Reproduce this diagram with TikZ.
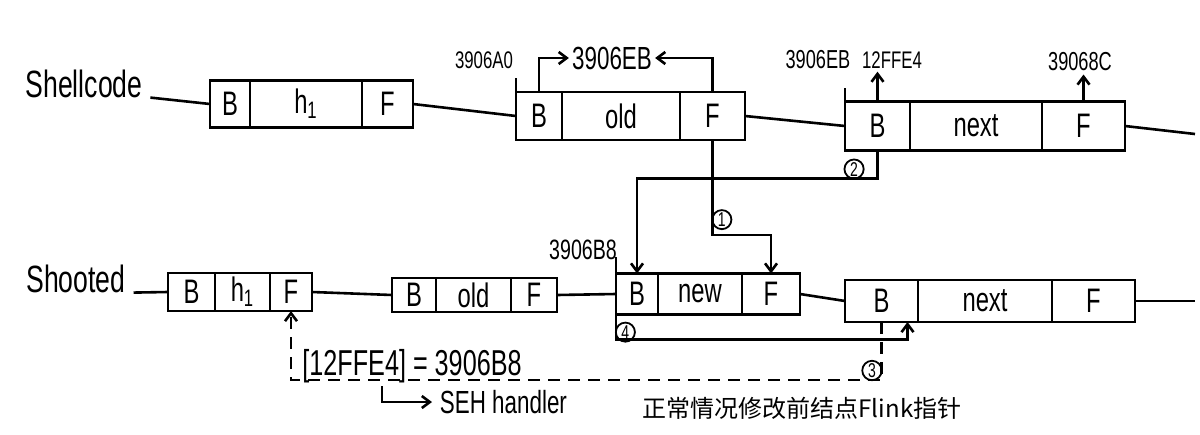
\documentclass[tikz,border=0pt]{standalone}
\usepackage{fontspec}
\setmainfont{Liberation Sans}[FakeStretch=0.7]
\newfontfamily\cjk{Noto Sans CJK SC}
\usepackage{tikz}
\usetikzlibrary{positioning, arrows.meta}

\begin{document}
\begin{tikzpicture}[
            x=0.5pt, y=-0.5pt,
            line width=1.3pt,
            >={Straight Barb[length=4pt, width=6pt]}, % open hand-drawn tips
            cell/.style={draw, inner sep=0pt, outer sep=0pt, minimum height=#1, font=\fontsize{17}{18}\selectfont}, % one field of a list entry
            cell/.default=23.5pt,
            listname/.style={font=\fontsize{19}{21}\selectfont},
            addr/.style={font=\fontsize{12}{13}\selectfont, inner sep=1pt},
            num/.style={circle, draw, solid, line width=0.9pt, inner sep=0.6pt, font=\fontsize{10}{11}\selectfont} % circled step number
            ]
    \useasboundingbox (0,0) rectangle (1200,434);

    % Shellcode list
    \node[listname] (lsh) at (84,84) {Shellcode};
    \node[cell, minimum width=20pt, anchor=west] (sb1) at (210,104) {B};
    \node[cell, minimum width=56pt, right=0pt of sb1] (sh1) {h\textsubscript{1}};
    \node[cell, minimum width=25.5pt, right=0pt of sh1] (sf1) {F};

    \node[cell=24pt, minimum width=23pt, anchor=west] (ob1) at (516,116) {B};
    \node[cell=24pt, minimum width=59pt, right=0pt of ob1] (oo1) {old};
    \node[cell=24pt, minimum width=32.5pt, right=0pt of oo1] (of1) {F};

    \node[cell=24.5pt, minimum width=32.5pt, anchor=west] (nb1) at (845,126) {B};
    \node[cell=24.5pt, minimum width=66pt, right=0pt of nb1] (nn1) {next};
    \node[cell=24.5pt, minimum width=41.5pt, right=0pt of nn1] (nf1) {F};
    \coordinate (tail1) at (1195,134);

    % addresses above the first list
    \node[addr] (a3906a0) at (484,60) {3906A0};
    \node[addr, font=\fontsize{16}{17}\selectfont] (a3906eb) at (612,58) {3906EB};
    \node[addr, font=\fontsize{13}{14}\selectfont] (b3906eb) at (818,60) {3906EB};
    \node[addr] (a12ffe4) at (892,60) {12FFE4};
    \node[addr, font=\fontsize{13}{14}\selectfont] (a39068c) at (1080,62) {39068C};

    \draw (lsh.base east) -- (sb1.west);
    \draw (sf1.east) -- (ob1.west);
    \draw (of1.east) -- (nb1.west);
    \draw (nf1.east) -- (tail1);
    \draw (ob1.north west) -- ++(0,-14);
    \draw (nb1.north west) -- ++(0,-14);
    \draw[->] (ob1.north) |- (a3906eb.west);
    \draw[->] (of1.north) |- (a3906eb.east);
    \draw[->] (nb1.north) -- (nb1.north |- a12ffe4.south);
    \draw[->] (nf1.north) -- (nf1.north |- a39068c.south);

    % Shooted list
    \node[listname] (lsd) at (76,279) {Shooted};
    \node[cell=19pt, minimum width=23.5pt, anchor=west] (hb2) at (168,292) {B};
    \node[cell=19pt, minimum width=27.5pt, right=0pt of hb2] (hh2) {h\textsubscript{1}};
    \node[cell=19pt, minimum width=21pt, right=0pt of hh2] (hf2) {F};

    \node[cell=17pt, minimum width=22pt, anchor=west] (ob2) at (392,295) {B};
    \node[cell=17pt, minimum width=37.5pt, right=0pt of ob2] (oo2) {old};
    \node[cell=17pt, minimum width=23pt, right=0pt of oo2] (of2) {F};

    \node[cell=20.5pt, minimum width=21pt, anchor=west] (wb) at (616,294) {B};
    \node[cell=20.5pt, minimum width=42pt, right=0pt of wb] (ww) {new};
    \node[cell=20.5pt, minimum width=29pt, right=0pt of ww] (wf) {F};

    \node[cell=21pt, minimum width=36.5pt, anchor=west] (xb) at (845,301) {B};
    \node[cell=21pt, minimum width=67pt, right=0pt of xb] (xn) {next};
    \node[cell=21pt, minimum width=41.5pt, right=0pt of xn] (xf) {F};
    \coordinate (tail2) at (1195,301);

    \node[addr, font=\fontsize{14}{15}\selectfont] (a3906b8) at (583,250) {3906B8};

    \draw (lsd.base east) -- (hb2.west);
    \draw (hf2.east) -- (ob2.west);
    \draw (of2.east) -- (wb.west);
    \draw (wf.east) -- (xb.west);
    \draw (xf.east) -- (tail2);
    \draw (wb.north west) -- ++(0,-17);

    % notes under the lists
    \node[font=\fontsize{18}{20}\selectfont, inner sep=1pt] (teq) at (412,366) {[12FFE4] = 3906B8};
    \node[font=\fontsize{16}{18}\selectfont, anchor=west] (tseh) at (432,402) {SEH handler};
    \node[font=\cjk\fontsize{12}{14}\selectfont] (tcn) at (802,408) {正常情况修改前结点Flink指针};

    % steps 1 to 4
    \draw[->] (of1.south) -- ++(0,95) node[num, above right=4pt and 1pt] {1} -| (wf.north);
    \draw[->] (nb1.south) -- ++(0,28) node[num, above left=1pt and 8pt] {2} -| (wb.north);
    \draw[dash pattern=on 6pt off 4pt, ->] (xb.south) -- ++(0,58) node[num, above left=1pt and 1pt] {3} -| (hf2.south);
    \draw[->] (wb.south west) -- ++(0,25) node[num, above right=0pt and 1pt] {4} -| ([xshift=13pt]xb.south);
    \draw[->] ([xshift=-15pt]teq.south) |- (tseh.west);

\end{tikzpicture}
\end{document}
